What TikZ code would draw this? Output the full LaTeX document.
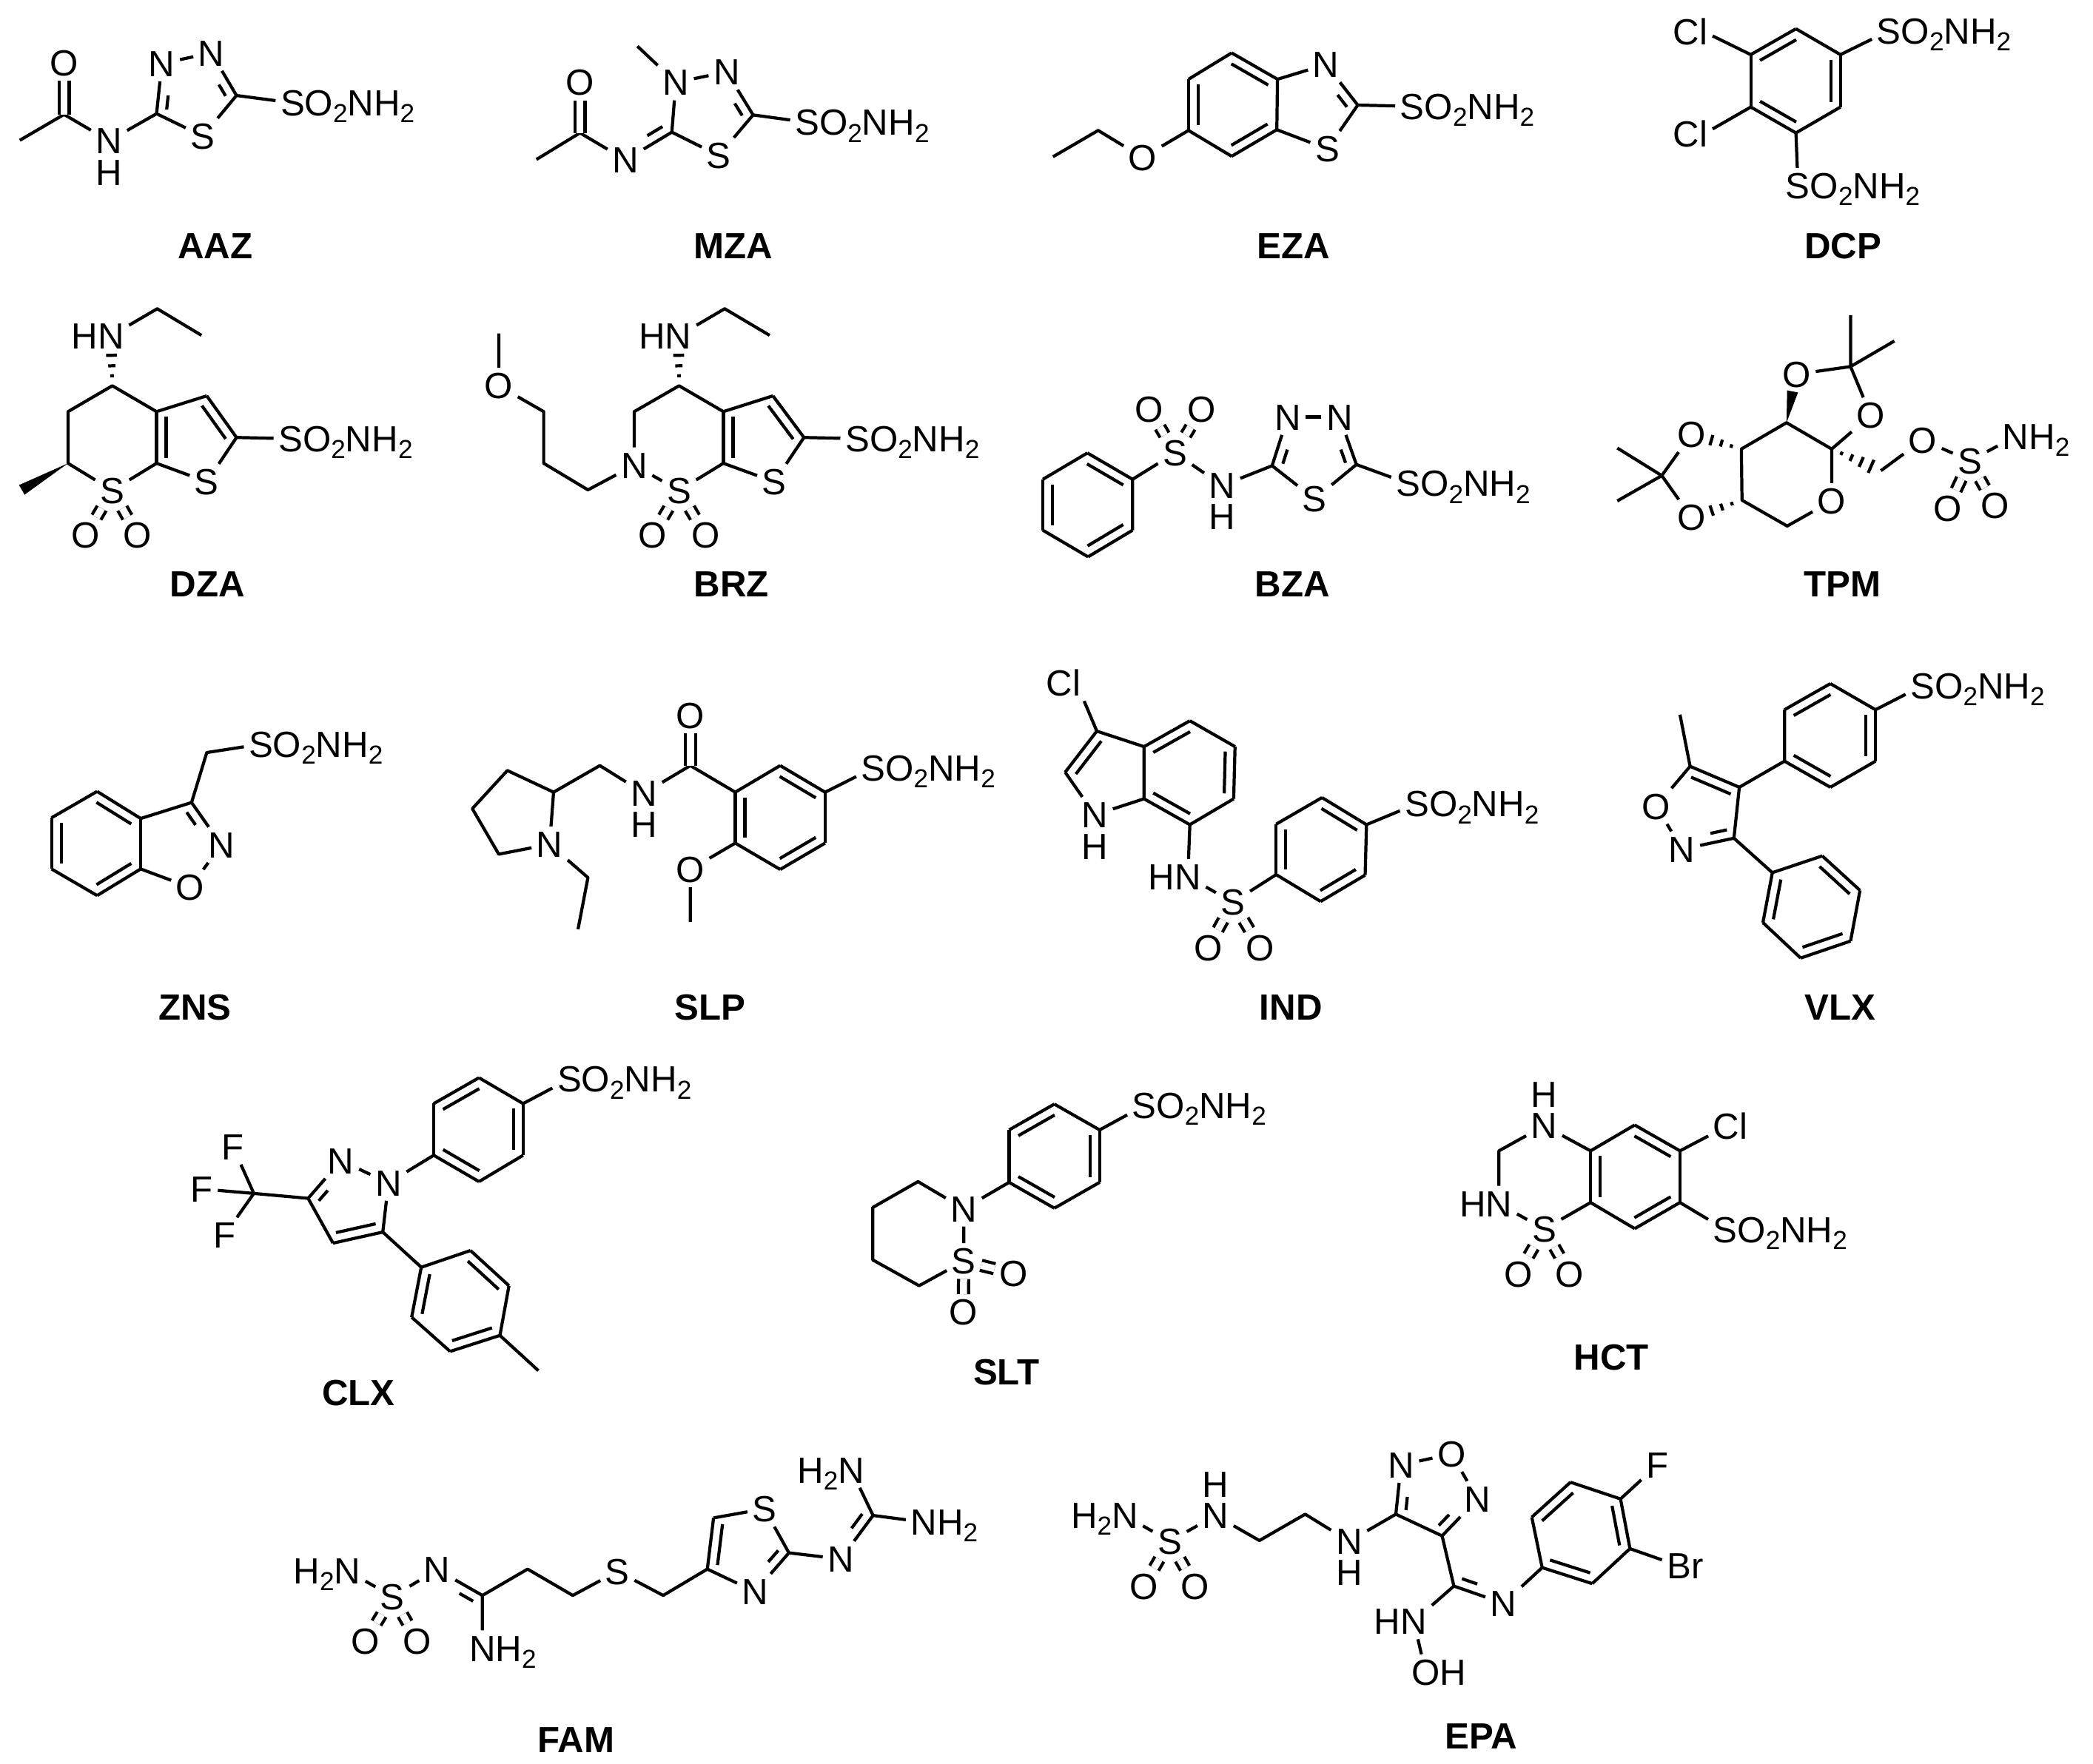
\documentclass[tikz,border=0pt]{standalone}
\usepackage{fontspec}
\setmainfont{Liberation Sans}
\usetikzlibrary{calc,positioning}

\newcommand{\lo}[1]{\raisebox{-.19em}{\fontsize{10}{10}\selectfont #1}}
\newcommand{\sulf}{S\rlap{O\lo{2}NH\lo{2}}}
\newcommand{\amine}{N\rlap{H\lo{2}}}
\newcommand{\amino}{\llap{H\lo{2}}N}
\newcommand{\hn}{\llap{H}N}
\newcommand{\pts}[1]{\foreach \n/\a/\b in {#1} \coordinate (\n) at (\a,\b);}
\newcommand{\dbond}[3][]{%
    \draw[bond] (#2) -- (#3);
    \draw[bond,shorten <=.07cm,shorten >=.07cm,#1] ($(#2)!.13cm!90:(#3)$) -- ($(#3)!.13cm!-90:(#2)$);}
\newcommand{\hbond}[3]{\foreach \t in {#3}
    \draw[bond] ($(#1)!\t!(#2)!{\t*.12cm}!90:(#2)$) -- ($(#1)!\t!(#2)!{\t*.12cm}!-90:(#2)$);}
\newcommand{\wbond}[2]{\fill ($(#2)!.075cm!90:(#1)$) -- (#1) -- ($(#2)!.075cm!-90:(#1)$) -- cycle;}

\tikzset{
    panel/.style n args={3}{shift={(#1cm,#2cm)},x=#3cm,y=-.003333cm},
    bond/.style={draw,line width=1.2pt,line join=round},
    sdbl/.style={bond,double,double distance=2.7pt},
    atom/.style={font=\fontsize{14}{14}\selectfont,inner sep=.06cm,text height=.35cm,text depth=0pt},
    hatom/.style={atom,inner sep=0pt},
    drug/.style={font=\fontsize{14}{14}\selectfont\bfseries,inner sep=0pt},
    fromatom/.style={shorten <=.42cm},
    toatom/.style={shorten >=.42cm}
}

\begin{document}
\begin{tikzpicture}
    \useasboundingbox (0,0) rectangle (28.28,-23.84);

    \begin{scope}[panel={0}{0}{.00893}]
    \pts{aaz1/30/570,aaz2/97/465,aaz3/237/462,aaz4/358/388}
    \node[atom] (aazO) at (97,255) {O};
    \node[atom] (aazN) at (165,572) {N};
    \node[hatom,below=0pt of aazN] (aazH) {H};
    \node[atom] (aazNa) at (245,258) {N};
    \node[atom] (aazNb) at (320,215) {N};
    \node[atom] (aazS) at (307,553) {S};
    \node[atom] (aazSn) at (443,418) {\sulf};
    \node[drug] (aazName) at (326,1000) {AAZ};
    \draw[bond] (aaz1) -- (aaz2) -- (aazN) -- (aaz3) -- (aazS) -- (aaz4) -- (aazSn);
    \draw[sdbl] (aaz2) -- (aazO);
    \dbond[fromatom]{aazNa}{aaz3}
    \draw[bond] (aazNa) -- (aazNb);
    \dbond[toatom]{aaz4}{aazNb}

    \pts{mza1/965/188,mza2/1017/537,mza3/1140/467,mza4/878/540,mza5/812/648}
    \node[atom] (mzaNa) at (1023,335) {N};
    \node[atom] (mzaNb) at (1100,292) {N};
    \node[atom] (mzaS) at (1088,632) {S};
    \node[atom] (mzaN) at (947,650) {N};
    \node[atom] (mzaO) at (878,335) {O};
    \node[atom] (mzaSn) at (1222,497) {\sulf};
    \node[drug] (mzaName) at (1110,1000) {MZA};
    \draw[bond] (mza1) -- (mzaNa) -- (mzaNb);
    \dbond[toatom]{mza3}{mzaNb}
    \draw[bond] (mzaNa) -- (mza2) -- (mzaS) -- (mza3) -- (mzaSn);
    \dbond[fromatom]{mzaN}{mza2}
    \draw[bond] (mzaN) -- (mza4) -- (mza5);
    \draw[sdbl] (mza4) -- (mzaO);
    \end{scope}

    \begin{scope}[panel={14}{0}{.00911}]
    \pts{eza1/290/215,eza2/358/322,eza3/357/527,eza4/290/635,eza5/226/530,eza6/226/322,eza7/477/427,eza8/92/530,eza9/25/637}
    \node[atom] (ezaN) at (430,262) {N};
    \node[atom] (ezaS) at (432,605) {S};
    \node[atom] (ezaO) at (158,640) {O};
    \node[atom] (ezaSn) at (558,432) {\sulf};
    \node[drug] (ezaName) at (382,1000) {EZA};
    \dbond{eza2}{eza1}
    \dbond{eza4}{eza3}
    \dbond{eza6}{eza5}
    \draw[bond] (eza1) -- (eza6);
    \draw[bond] (eza2) -- (eza3);
    \draw[bond] (eza4) -- (eza5);
    \draw[bond] (eza2) -- (ezaN);
    \dbond[toatom]{eza7}{ezaN}
    \draw[bond] (eza7) -- (ezaS) -- (eza3);
    \draw[bond] (eza7) -- (ezaSn);
    \draw[bond] (eza5) -- (ezaO) -- (eza8) -- (eza9);

    \pts{dcp1/1127/117,dcp2/1193/222,dcp3/1193/435,dcp4/1127/540,dcp5/1060/435,dcp6/1060/222}
    \node[atom] (dcpCla) at (990,128) {\llap{C}l};
    \node[atom] (dcpClb) at (990,545) {\llap{C}l};
    \node[atom] (dcpSa) at (1265,125) {\sulf};
    \node[atom] (dcpSb) at (1130,755) {\sulf};
    \node[drug] (dcpName) at (1197,1000) {DCP};
    \dbond{dcp1}{dcp6}
    \dbond{dcp3}{dcp2}
    \dbond{dcp5}{dcp4}
    \draw[bond] (dcp1) -- (dcp2);
    \draw[bond] (dcp3) -- (dcp4);
    \draw[bond] (dcp5) -- (dcp6);
    \draw[bond] (dcp6) -- (dcpCla);
    \draw[bond] (dcp5) -- (dcpClb);
    \draw[bond] (dcp2) -- (dcpSa);
    \draw[bond] (dcp4) -- (dcpSb);
    \end{scope}

    \begin{scope}[panel={0}{-3.8}{.00893}]
    \pts{dza1/238/112,dza2/305/220,dza3/170/425,dza4/103/530,dza5/103/740,dza6/237/740,dza7/237/530,dza8/313/466,dza9/358/635,dza10/33/848}
    \node[atom] (dzaN) at (168,222) {\hn};
    \node[atom] (dzaSa) at (170,850) {S};
    \node[atom] (dzaSb) at (313,815) {S};
    \node[atom] (dzaOa) at (130,1032) {O};
    \node[atom] (dzaOb) at (208,1032) {O};
    \node[atom] (dzaSn) at (440,640) {\sulf};
    \node[drug] (dzaName) at (314,1232) {DZA};
    \draw[bond] (dzaN) -- (dza1) -- (dza2);
    \hbond{dza3}{dzaN}{.2,.4,.61}
    \draw[bond] (dza7) -- (dza3) -- (dza4) -- (dza5) -- (dzaSa) -- (dza6) -- (dzaSb) -- (dza9) -- (dzaSn);
    \dbond{dza7}{dza6}
    \draw[bond] (dza7) -- (dza8);
    \dbond{dza9}{dza8}
    \draw[sdbl] (dzaSa) -- (dzaOa);
    \draw[sdbl] (dzaSa) -- (dzaOb);
    \wbond{dza5}{dza10}

    \pts{brz1/1097/112,brz2/1165/220,brz3/1028/425,brz4/960/530,brz5/1095/740,brz6/1095/530,brz7/1170/466,brz8/1217/635,brz9/890/848,brz10/823/740,brz11/823/530,brz12/755/212}
    \node[atom] (brzNa) at (1027,222) {\hn};
    \node[atom] (brzNb) at (960,748) {N};
    \node[atom] (brzSa) at (1028,850) {S};
    \node[atom] (brzSb) at (1172,815) {S};
    \node[atom] (brzOa) at (988,1032) {O};
    \node[atom] (brzOb) at (1068,1032) {O};
    \node[atom] (brzOc) at (755,425) {O};
    \node[atom] (brzSn) at (1298,640) {\sulf};
    \node[drug] (brzName) at (1107,1232) {BRZ};
    \draw[bond] (brzNa) -- (brz1) -- (brz2);
    \hbond{brz3}{brzNa}{.2,.4,.61}
    \draw[bond] (brz6) -- (brz3) -- (brz4) -- (brzNb) -- (brzSa) -- (brz5) -- (brzSb) -- (brz8) -- (brzSn);
    \dbond{brz6}{brz5}
    \draw[bond] (brz6) -- (brz7);
    \dbond{brz8}{brz7}
    \draw[sdbl] (brzSa) -- (brzOa);
    \draw[sdbl] (brzSa) -- (brzOb);
    \draw[bond] (brzNb) -- (brz9) -- (brz10) -- (brz11) -- (brzOc) -- (brz12);
    \end{scope}

    \begin{scope}[panel={14}{-3.8}{.00911}]
    \pts{bza1/143/805,bza2/76/698,bza3/10/805,bza4/10/1012,bza5/77/1120,bza6/143/1012,bza7/350/750,bza8/475/745}
    \node[atom] (bzaS) at (206,698) {S};
    \node[atom] (bzaOa) at (168,520) {O};
    \node[atom] (bzaOb) at (245,520) {O};
    \node[atom] (bzaN) at (276,830) {N};
    \node[hatom,below=0pt of bzaN] (bzaH) {H};
    \node[atom] (bzaNa) at (373,552) {N};
    \node[atom] (bzaNb) at (450,552) {N};
    \node[atom] (bzaSb) at (413,885) {S};
    \node[atom] (bzaSn) at (552,822) {\sulf};
    \node[drug] (bzaName) at (380,1232) {BZA};
    \dbond{bza1}{bza2}
    \dbond{bza3}{bza4}
    \dbond{bza5}{bza6}
    \draw[bond] (bza2) -- (bza3);
    \draw[bond] (bza4) -- (bza5);
    \draw[bond] (bza6) -- (bza1) -- (bzaS) -- (bzaN) -- (bza7) -- (bzaSb) -- (bza8) -- (bzaSn);
    \draw[sdbl] (bzaS) -- (bzaOa);
    \draw[sdbl] (bzaS) -- (bzaOb);
    \dbond[fromatom]{bzaNa}{bza7}
    \draw[bond] (bzaNa) -- (bzaNb);
    \dbond[toatom]{bza8}{bzaNb}

    \pts{tpm1/1208/138,tpm2/1273/243,tpm3/1208/347,tpm4/1113/575,tpm5/1180/682,tpm6/1046/682,tpm7/1047/890,tpm8/1114/995,tpm9/928/790,tpm10/862/678,tpm11/862/893,tpm12/1253/770,tpm13/1122/448}
    \node[atom] (tpmOa) at (1128,378) {O};
    \node[atom] (tpmOb) at (1238,545) {O};
    \node[atom] (tpmOc) at (1180,893) {O};
    \node[atom] (tpmOd) at (972,622) {O};
    \node[atom] (tpmOe) at (972,960) {O};
    \node[atom] (tpmOf) at (1315,645) {O};
    \node[atom] (tpmOg) at (1352,922) {O};
    \node[atom] (tpmOh) at (1422,912) {O};
    \node[atom] (tpmS) at (1385,730) {S};
    \node[atom] (tpmN) at (1453,630) {\amine};
    \node[drug] (tpmName) at (1196,1232) {TPM};
    \draw[bond] (tpm1) -- (tpm3) -- (tpm2);
    \draw[bond] (tpmOa) -- (tpm3) -- (tpmOb) -- (tpm5) -- (tpm4) -- (tpm6) -- (tpm7) -- (tpm8) -- (tpmOc) -- (tpm5);
    \wbond{tpm4}{tpm13}
    \hbond{tpm6}{tpmOd}{.2,.4,.6}
    \hbond{tpm7}{tpmOe}{.2,.4,.6}
    \hbond{tpm5}{tpm12}{.2,.4,.6,.8,1}
    \draw[bond] (tpmOd) -- (tpm9) -- (tpmOe);
    \draw[bond] (tpm10) -- (tpm9) -- (tpm11);
    \draw[bond] (tpm12) -- (tpmOf) -- (tpmS) -- (tpmN);
    \draw[sdbl] (tpmS) -- (tpmOg);
    \draw[sdbl] (tpmS) -- (tpmOh);
    \end{scope}

    \begin{scope}[panel={0}{-8.8}{.00893}]
    \pts{zns1/147/570,zns2/213/680,zns3/213/885,zns4/147/993,zns5/78/885,zns6/78/677,zns7/290/615,zns8/313/412}
    \node[atom] (znsN) at (335,787) {N};
    \node[atom] (znsO) at (288,960) {O};
    \node[atom] (znsSn) at (395,378) {\sulf};
    \node[drug] (znsName) at (295,1448) {ZNS};
    \dbond{zns2}{zns1}
    \dbond{zns4}{zns3}
    \dbond{zns6}{zns5}
    \draw[bond] (zns1) -- (zns6);
    \draw[bond] (zns2) -- (zns3);
    \draw[bond] (zns4) -- (zns5);
    \draw[bond] (zns2) -- (zns7) -- (zns8) -- (znsSn);
    \dbond[fromatom]{znsN}{zns7}
    \draw[bond] (znsN) -- (znsO) -- (zns3);

    \pts{slp1/768/485,slp2/715/640,slp3/755/825,slp4/838/573,slp5/890/920,slp6/875/1130,slp7/908/465,slp8/1045/465,slp9/1113/573,slp10/1181/465,slp11/1249/573,slp12/1249/780,slp13/1181/887,slp14/1113/780,slp15/1045/1100}
    \node[atom] (slpNa) at (832,785) {N};
    \node[atom] (slpNb) at (975,577) {N};
    \node[hatom,below=0pt of slpNb] (slpH) {H};
    \node[atom] (slpOa) at (1045,262) {O};
    \node[atom] (slpOb) at (1045,887) {O};
    \node[atom] (slpSn) at (1322,475) {\sulf};
    \node[drug] (slpName) at (1075,1448) {SLP};
    \draw[bond] (slp4) -- (slp1) -- (slp2) -- (slp3) -- (slpNa) -- (slp4) -- (slp7) -- (slpNb) -- (slp8) -- (slp9);
    \draw[bond] (slpNa) -- (slp5) -- (slp6);
    \draw[sdbl] (slp8) -- (slpOa);
    \dbond{slp9}{slp14}
    \dbond{slp11}{slp10}
    \dbond{slp13}{slp12}
    \draw[bond] (slp9) -- (slp10);
    \draw[bond] (slp11) -- (slp12);
    \draw[bond] (slp13) -- (slp14);
    \draw[bond] (slp14) -- (slpOb) -- (slp15);
    \draw[bond] (slp11) -- (slpSn);
    \end{scope}

    \begin{scope}[panel={14}{-8.8}{.00911}]
    \pts{ind1/90/325,ind2/43/492,ind3/160/600,ind4/160/388,ind5/228/283,ind6/295/388,ind7/293/600,ind8/228/705,ind9/356/908,ind10/356/703,ind11/424/595,ind12/490/705,ind13/488/910,ind14/422/1017}
    \node[atom] (indCl) at (60,130) {\llap{C}l};
    \node[atom] (indNa) at (87,665) {N};
    \node[hatom,below=0pt of indNa] (indH) {H};
    \node[atom] (indNb) at (225,917) {\hn};
    \node[atom] (indS) at (292,1020) {S};
    \node[atom] (indOa) at (255,1205) {O};
    \node[atom] (indOb) at (332,1205) {O};
    \node[atom] (indSn) at (565,620) {\sulf};
    \node[drug] (indName) at (378,1448) {IND};
    \draw[bond] (indCl) -- (ind1);
    \dbond{ind1}{ind2}
    \draw[bond] (ind2) -- (indNa) -- (ind3) -- (ind4) -- (ind1);
    \dbond{ind5}{ind4}
    \draw[bond] (ind5) -- (ind6);
    \dbond{ind7}{ind6}
    \draw[bond] (ind7) -- (ind8);
    \dbond{ind3}{ind8}
    \draw[bond] (ind8) -- (indNb) -- (indS) -- (ind9);
    \draw[sdbl] (indS) -- (indOa);
    \draw[sdbl] (indS) -- (indOb);
    \dbond{ind10}{ind9}
    \dbond{ind12}{ind11}
    \dbond{ind14}{ind13}
    \draw[bond] (ind10) -- (ind11);
    \draw[bond] (ind12) -- (ind13);
    \draw[bond] (ind14) -- (ind9);
    \draw[bond] (ind12) -- (indSn);

    \pts{vlx1/955/258,vlx2/970/468,vlx3/1043/553,vlx4/1035/760,vlx5/1110/447,vlx6/1110/238,vlx7/1178/132,vlx8/1245/238,vlx9/1245/447,vlx10/1178/553,vlx11/1092/900,vlx12/1166/832,vlx13/1222/972,vlx14/1208/1178,vlx15/1134/1247,vlx16/1078/1103}
    \node[atom] (vlxN) at (958,805) {N};
    \node[atom] (vlxO) at (920,630) {O};
    \node[atom] (vlxSn) at (1315,140) {\sulf};
    \node[drug] (vlxName) at (1193,1448) {VLX};
    \draw[bond] (vlx1) -- (vlx2) -- (vlxO) -- (vlxN);
    \dbond{vlx3}{vlx2}
    \dbond[fromatom]{vlxN}{vlx4}
    \draw[bond] (vlx3) -- (vlx4) -- (vlx11);
    \draw[bond] (vlx3) -- (vlx5) -- (vlx6);
    \dbond{vlx7}{vlx6}
    \draw[bond] (vlx7) -- (vlx8);
    \dbond{vlx9}{vlx8}
    \draw[bond] (vlx9) -- (vlx10);
    \dbond{vlx5}{vlx10}
    \draw[bond] (vlx8) -- (vlxSn);
    \dbond{vlx13}{vlx12}
    \dbond{vlx11}{vlx16}
    \dbond{vlx15}{vlx14}
    \draw[bond] (vlx11) -- (vlx12);
    \draw[bond] (vlx13) -- (vlx14);
    \draw[bond] (vlx15) -- (vlx16);
    \end{scope}

    \begin{scope}[panel={2}{-14}{.00765}]
    \pts{clx1/505/485,clx2/505/275,clx3/585/170,clx4/663/275,clx5/663/485,clx6/585/592,clx7/283/660,clx8/327/842,clx9/415/797,clx10/187/640,clx11/483/940,clx12/570/872,clx13/638/1015,clx14/622/1217,clx15/534/1282,clx16/466/1143,clx17/690/1360}
    \node[atom] (clxNa) at (425,597) {N};
    \node[atom] (clxNb) at (341,507) {N};
    \node[atom] (clxFa) at (150,450) {F};
    \node[atom] (clxFb) at (95,622) {F};
    \node[atom] (clxFc) at (135,810) {F};
    \node[atom] (clxSn) at (745,175) {\sulf};
    \node[drug] (clxName) at (372,1452) {CLX};
    \dbond{clx3}{clx2}
    \dbond{clx5}{clx4}
    \dbond{clx1}{clx6}
    \draw[bond] (clx1) -- (clx2);
    \draw[bond] (clx3) -- (clx4) -- (clxSn);
    \draw[bond] (clx5) -- (clx6);
    \draw[bond] (clx1) -- (clxNa) -- (clxNb);
    \dbond[fromatom]{clxNb}{clx7}
    \draw[bond] (clx7) -- (clx8);
    \dbond{clx8}{clx9}
    \draw[bond] (clx9) -- (clxNa);
    \draw[bond] (clx7) -- (clx10);
    \draw[bond] (clx10) -- (clxFa);
    \draw[bond] (clx10) -- (clxFb);
    \draw[bond] (clx10) -- (clxFc);
    \draw[bond] (clx9) -- (clx11) -- (clx12);
    \dbond{clx13}{clx12}
    \dbond{clx11}{clx16}
    \dbond{clx15}{clx14}
    \draw[bond] (clx13) -- (clx14) -- (clx17);
    \draw[bond] (clx15) -- (clx16);

    \pts{slt1/1522/595,slt2/1522/382,slt3/1602/277,slt4/1682/382,slt5/1682/595,slt6/1602/700,slt7/1361/592,slt8/1281/697,slt9/1281/910,slt10/1363/1015}
    \node[atom] (sltN) at (1442,702) {N};
    \node[atom] (sltS) at (1442,915) {S};
    \node[atom] (sltOa) at (1530,965) {O};
    \node[atom] (sltOb) at (1441,1122) {O};
    \node[atom] (sltSn) at (1761,283) {\sulf};
    \node[drug] (sltName) at (1517,1367) {SLT};
    \dbond{slt3}{slt2}
    \dbond{slt5}{slt4}
    \dbond{slt1}{slt6}
    \draw[bond] (slt1) -- (slt2);
    \draw[bond] (slt3) -- (slt4) -- (sltSn);
    \draw[bond] (slt5) -- (slt6);
    \draw[bond] (slt1) -- (sltN) -- (slt7) -- (slt8) -- (slt9) -- (slt10) -- (sltS) -- (sltN);
    \draw[sdbl] (sltS) -- (sltOa);
    \draw[sdbl] (sltS) -- (sltOb);
    \end{scope}

    \begin{scope}[panel={14}{-14}{.00765}]
    \pts{hct1/980/467,hct2/980/677,hct3/1058/783,hct4/1138/677,hct5/1138/467,hct6/1058/362,hct7/818/467}
    \node[atom] (hctNa) at (898,365) {N};
    \node[hatom,above=0pt of hctNa] (hctH) {H};
    \node[atom] (hctNb) at (818,682) {\hn};
    \node[atom] (hctS) at (898,785) {S};
    \node[atom] (hctOa) at (852,967) {O};
    \node[atom] (hctOb) at (943,967) {O};
    \node[atom] (hctCl) at (1220,368) {C\rlap{l}};
    \node[atom] (hctSn) at (1218,787) {\sulf};
    \node[drug] (hctName) at (1017,1305) {HCT};
    \dbond{hct1}{hct2}
    \dbond{hct5}{hct6}
    \dbond{hct3}{hct4}
    \draw[bond] (hct2) -- (hct3);
    \draw[bond] (hct4) -- (hct5);
    \draw[bond] (hct6) -- (hct1);
    \draw[bond] (hct1) -- (hctNa) -- (hct7) -- (hctNb) -- (hctS) -- (hct2);
    \draw[sdbl] (hctS) -- (hctOa);
    \draw[sdbl] (hctS) -- (hctOb);
    \draw[bond] (hct5) -- (hctCl);
    \draw[bond] (hct4) -- (hctSn);
    \end{scope}

    \begin{scope}[panel={3.5}{-19.2}{.00702}]
    \pts{fam1/430/710,fam2/517/603,fam3/604/710,fam4/778/710,fam5/863/603,fam6/1020/537,fam7/875/395,fam8/1182/385}
    \node[atom] (famNa) at (170,610) {\amino};
    \node[atom] (famSa) at (257,715) {S};
    \node[atom] (famNb) at (343,605) {N};
    \node[atom] (famNc) at (430,925) {\amine};
    \node[atom] (famOa) at (205,895) {O};
    \node[atom] (famOb) at (305,895) {O};
    \node[atom] (famSb) at (690,612) {S};
    \node[atom] (famNd) at (955,695) {N};
    \node[atom] (famSc) at (973,358) {S};
    \node[atom] (famNe) at (1120,562) {N};
    \node[atom] (famNf) at (1140,200) {\amino};
    \node[atom] (famNg) at (1280,412) {\amine};
    \node[drug] (famName) at (610,1297) {FAM};
    \draw[bond] (famNa) -- (famSa) -- (famNb);
    \draw[sdbl] (famSa) -- (famOa);
    \draw[sdbl] (famSa) -- (famOb);
    \dbond[toatom]{fam1}{famNb}
    \draw[bond] (famNc) -- (fam1) -- (fam2) -- (fam3) -- (famSb) -- (fam4) -- (fam5) -- (famNd);
    \dbond[fromatom]{famNd}{fam6}
    \draw[bond] (fam6) -- (famSc) -- (fam7);
    \dbond{fam7}{fam5}
    \draw[bond] (fam6) -- (famNe);
    \dbond[fromatom]{famNe}{fam8}
    \draw[bond] (famNf) -- (fam8) -- (famNg);
    \end{scope}

    \begin{scope}[panel={14}{-19.2}{.00638}]
    \pts{epa1/473/487,epa2/570/380,epa3/762/380,epa4/860/468,epa5/885/672,epa6/1072/597,epa7/1050/392,epa8/1132/250,epa9/1238/318,epa10/1258/520,epa11/1178/662}
    \node[atom] (epaNa) at (188,385) {\amino};
    \node[atom] (epaS) at (283,490) {S};
    \node[atom] (epaOa) at (228,672) {O};
    \node[atom] (epaOb) at (337,672) {O};
    \node[atom] (epaNb) at (380,385) {N};
    \node[hatom,above=0pt of epaNb] (epaHa) {H};
    \node[atom] (epaNc) at (663,490) {N};
    \node[hatom,below=0pt of epaNc] (epaHb) {H};
    \node[atom] (epaNd) at (773,180) {N};
    \node[atom] (epaOc) at (880,135) {O};
    \node[atom] (epaNe) at (935,318) {N};
    \node[atom] (epaNf) at (990,742) {N};
    \node[atom] (epaNg) at (800,815) {\hn};
    \node[atom] (epaOd) at (825,1022) {O\rlap{H}};
    \node[atom] (epaF) at (1316,180) {F};
    \node[atom] (epaBr) at (1362,590) {B\rlap{r}};
    \node[drug] (epaName) at (943,1283) {EPA};
    \draw[bond] (epaNa) -- (epaS) -- (epaNb) -- (epa1) -- (epa2) -- (epaNc) -- (epa3) -- (epa4);
    \draw[sdbl] (epaS) -- (epaOa);
    \draw[sdbl] (epaS) -- (epaOb);
    \dbond[fromatom]{epaNd}{epa3}
    \draw[bond] (epaNd) -- (epaOc) -- (epaNe);
    \dbond[toatom]{epa4}{epaNe}
    \draw[bond] (epa4) -- (epa5) -- (epaNg) -- (epaOd);
    \dbond[toatom]{epa5}{epaNf}
    \draw[bond] (epaNf) -- (epa6) -- (epa7);
    \dbond{epa8}{epa7}
    \draw[bond] (epa8) -- (epa9) -- (epaF);
    \dbond{epa10}{epa9}
    \draw[bond] (epa10) -- (epa11);
    \draw[bond] (epa10) -- (epaBr);
    \dbond{epa6}{epa11}
    \end{scope}
\end{tikzpicture}
\end{document}
